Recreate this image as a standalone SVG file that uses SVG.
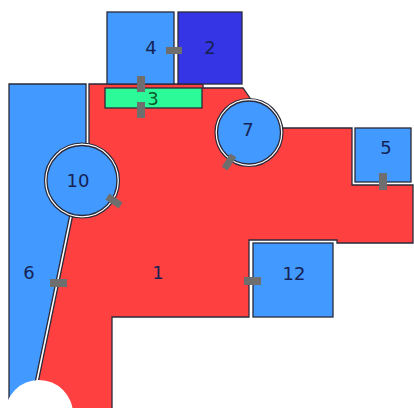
<svg xmlns="http://www.w3.org/2000/svg" width="414" height="408" viewBox="0 0 414 408">
<style>
.rm{stroke:#2a2a3a;stroke-width:1.3;stroke-linejoin:miter}
.blue{fill:#4299ff}
.red{fill:#ff4040}
.dblue{fill:#3535e6}
.green{fill:#2cfa98}
.ring{fill:#fff;stroke:#2a2a3a;stroke-width:1.2}
.door{fill:#6e6e6e}
.lbl{font-family:"DejaVu Sans",Verdana,sans-serif;font-size:18px;fill:#152255;text-anchor:middle;dominant-baseline:central}
</style>
<rect width="414" height="408" fill="#fff"/>
<g id="room1">
<path class="rm red" d="M89,84 L203,84 L203,88 L243,88 L250,98 L270,128 L352,128 L352,185 L413,185 L413,243 L337,243 L337,240 L249,240 L249,317 L112,317 L112,412 L32,412 L73,214 L89,150 Z"/>
</g>
<g id="room6">
<path class="rm blue" d="M9,84 L86,84 L86,152 L70,214 L29,412 L9,412 Z"/>
</g>
<circle cx="39" cy="414" r="34" fill="#fff"/>
<g id="room10">
<circle class="ring" cx="82" cy="180.5" r="37.5"/>
<circle class="rm blue" cx="82" cy="180.5" r="35"/>
</g>
<g id="room7">
<circle class="ring" cx="249" cy="132.5" r="34"/>
<circle class="rm blue" cx="249" cy="132.5" r="31.5"/>
</g>
<g id="room4"><rect class="rm blue" x="107" y="12" width="67" height="72"/></g>
<g id="room2"><rect class="rm dblue" x="178" y="12" width="64" height="72"/></g>
<g id="room3"><rect class="rm green" x="105" y="88" width="97" height="20"/></g>
<g id="room5"><rect class="rm blue" x="355" y="128" width="56" height="54"/></g>
<g id="room12"><rect class="rm blue" x="253" y="243" width="80" height="74"/></g>
<g id="connectors">
<rect class="door" x="166" y="47" width="16" height="7"/>
<rect class="door" x="137" y="76" width="8" height="16"/>
<rect class="door" x="137" y="102" width="8" height="16"/>
<rect class="door" x="-8" y="-3.5" width="16" height="7" transform="translate(114,201) rotate(34)"/>
<rect class="door" x="-8" y="-3.5" width="16" height="7" transform="translate(229,162) rotate(123)"/>
<rect class="door" x="379" y="173" width="8" height="17"/>
<rect class="door" x="50" y="279" width="17" height="8"/>
<rect class="door" x="244" y="277" width="17" height="8"/>
</g>
<g id="labels">
<text class="lbl" x="151" y="47">4</text>
<text class="lbl" x="210" y="47">2</text>
<text class="lbl" x="153" y="98" style="fill:#0b5a2c">3</text>
<text class="lbl" x="248" y="129">7</text>
<text class="lbl" x="386" y="147">5</text>
<text class="lbl" x="78" y="180">10</text>
<text class="lbl" x="29" y="272">6</text>
<text class="lbl" x="158" y="272">1</text>
<text class="lbl" x="294" y="273">12</text>
</g>
</svg>
